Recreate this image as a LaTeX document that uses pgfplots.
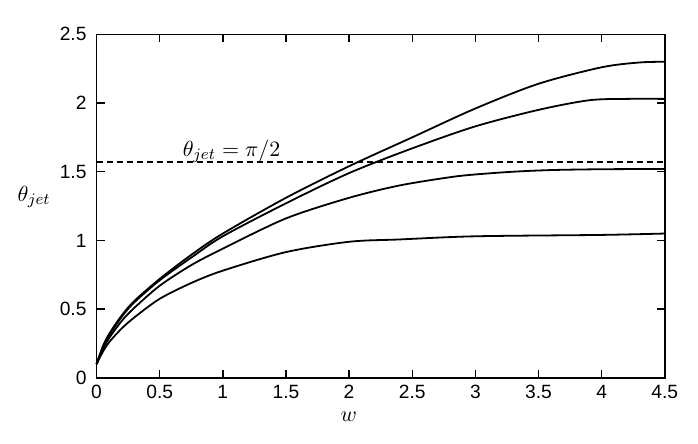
\documentclass[border=0pt]{standalone}
\usepackage{fontspec}
\setmainfont{Liberation Sans}
\usepackage{pgfplots}
\pgfplotsset{compat=1.18}
\begin{document}
\begin{tikzpicture}
\begin{axis}[
  scale only axis,
  width=284pt, height=171.7pt,
  xmin=0, xmax=4.5, ymin=0, ymax=2.5,
  xtick={0,0.5,...,4.5},
  ytick={0,0.5,...,2.5},
  /pgf/number format/assume math mode=true,
  ticklabel style={font=\fontsize{9.6}{11}\selectfont},
  yticklabel style={xshift=-1.5pt},
  axis line style={line width=0.8pt},
  major tick style={line width=0.7pt, black},
  tick align=inside,
  major tick length=4pt,
  xlabel={$w$},
  xlabel style={at={(rel axis cs:0.444,-0.114)}, anchor=center, font=\fontsize{11}{13}\selectfont},
  ylabel={$\theta_{jet}$},
  ylabel style={rotate=-90, at={(rel axis cs:-0.11,0.526)}, anchor=center, font=\fontsize{11}{13}\selectfont},
  clip=false,
]
\path (rel axis cs:-0.170,-0.190) rectangle (rel axis cs:1.0586,1.0999);
% top curve
\addplot[black, line width=0.9pt, smooth] coordinates {
(0,0.1) (0.05,0.23) (0.1,0.32) (0.2,0.455) (0.3,0.56) (0.5,0.72) (0.75,0.895) (1.0,1.05) (1.5,1.31) (2.0,1.54) (2.5,1.75) (3.0,1.96) (3.5,2.14) (4.0,2.26) (4.3,2.295) (4.5,2.30)};
% second curve
\addplot[black, line width=0.9pt, smooth] coordinates {
(0,0.1) (0.05,0.22) (0.1,0.31) (0.2,0.445) (0.3,0.55) (0.5,0.71) (0.75,0.875) (1.0,1.03) (1.5,1.27) (2.0,1.49) (2.5,1.67) (3.0,1.83) (3.5,1.95) (3.9,2.02) (4.2,2.03) (4.5,2.03)};
% third curve
\addplot[black, line width=0.9pt, smooth] coordinates {
(0,0.1) (0.05,0.21) (0.1,0.29) (0.2,0.415) (0.3,0.51) (0.5,0.67) (0.75,0.82) (1.0,0.94) (1.5,1.16) (2.0,1.31) (2.4,1.40) (2.8,1.46) (3.0,1.48) (3.3,1.50) (3.6,1.512) (4.0,1.518) (4.5,1.52)};
% bottom curve
\addplot[black, line width=0.9pt, smooth] coordinates {
(0,0.1) (0.05,0.19) (0.1,0.26) (0.2,0.36) (0.3,0.44) (0.5,0.575) (0.75,0.69) (1.0,0.78) (1.5,0.915) (2.0,0.99) (2.4,1.007) (3.0,1.03) (4.0,1.04) (4.5,1.05)};
% pi/2 line
\addplot[black, line width=0.8pt, dash pattern=on 3pt off 2pt] coordinates {(0,1.5708) (4.5,1.5708)};
\node[anchor=base west, inner sep=0pt, font=\fontsize{11}{13}\selectfont] at (axis cs:0.68,1.61) {$\theta_{jet} = \pi/2$};
\end{axis}
\end{tikzpicture}
\end{document}
